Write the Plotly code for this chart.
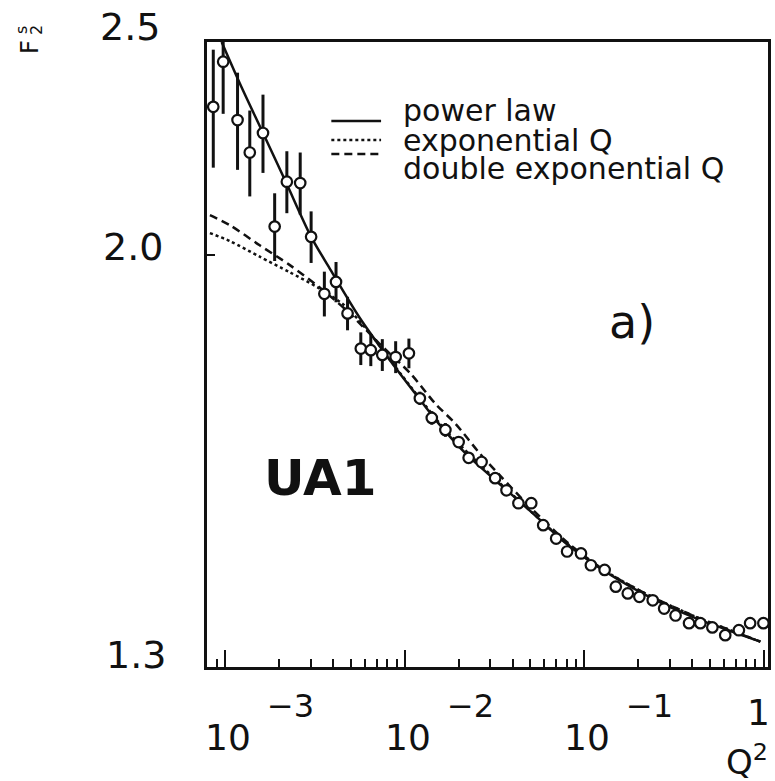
import numpy as np
import plotly.graph_objects as go

# ---------------- data ----------------
q2_data = [8.57e-4, 9.73e-4, 1.17e-3, 1.369e-3, 1.622e-3, 1.884e-3, 2.203e-3, 2.615e-3,
           3.008e-3, 3.565e-3, 4.14e-3, 4.80e-3, 5.69e-3, 6.47e-3, 7.50e-3, 8.90e-3,
           1.055e-2, 1.214e-2, 1.415e-2, 1.685e-2, 1.997e-2, 2.27e-2, 2.68e-2, 3.19e-2,
           3.69e-2, 4.30e-2, 5.07e-2, 5.91e-2, 6.98e-2, 8.03e-2, 9.60e-2, 0.109,
           0.130, 0.150, 0.175, 0.203, 0.241, 0.279, 0.323, 0.384,
           0.444, 0.518, 0.611, 0.728, 0.841, 0.997]
f2_data = [2.336, 2.449, 2.304, 2.227, 2.273, 2.061, 2.160, 2.157,
           2.039, 1.921, 1.945, 1.882, 1.814, 1.811, 1.802, 1.798,
           1.805, 1.722, 1.687, 1.666, 1.645, 1.618, 1.611, 1.584,
           1.564, 1.543, 1.543, 1.508, 1.487, 1.467, 1.464, 1.446,
           1.439, 1.414, 1.404, 1.399, 1.394, 1.382, 1.372, 1.361,
           1.361, 1.355, 1.344, 1.351, 1.361, 1.361]
f2_err = [0.144, 0.13, 0.117, 0.10, 0.093, 0.073, 0.07, 0.07,
          0.055, 0.045, 0.041, 0.033, 0.031, 0.030, 0.030, 0.030,
          0.028, 0.012, 0.012, 0.012, 0.010, 0, 0, 0,
          0, 0, 0, 0, 0, 0, 0, 0,
          0, 0, 0, 0, 0, 0, 0, 0,
          0, 0, 0, 0, 0, 0]

q2_power = [9.54e-4, 1.236e-3, 1.622e-3, 2.187e-3, 3.008e-3, 3.80e-3, 5.57e-3, 8.53e-3,
            1.149e-2, 1.547e-2, 2.176e-2, 3.33e-2, 5.07e-2, 8.13e-2, 0.1355, 0.2346,
            0.4114, 0.6856, 0.9588]
f2_power = [2.500, 2.383, 2.273, 2.157, 2.039, 1.974, 1.875, 1.786,
            1.730, 1.677, 1.626, 1.576, 1.529, 1.477, 1.434, 1.398,
            1.369, 1.348, 1.335]

q2_expo = [8.21e-4, 1.060e-3, 1.555e-3, 2.280e-3, 3.345e-3, 4.603e-3, 6.333e-3, 8.71e-3,
           1.198e-2, 1.685e-2, 2.578e-2, 4.30e-2, 8.13e-2, 0.1355, 0.2346, 0.4114,
           0.6856, 0.9588]
f2_expo = [2.047, 2.030, 1.997, 1.965, 1.932, 1.898, 1.845, 1.783,
           1.724, 1.666, 1.609, 1.548, 1.478, 1.435, 1.400, 1.371,
           1.349, 1.335]

q2_dexp = [8.21e-4, 1.060e-3, 1.555e-3, 2.280e-3, 3.345e-3, 4.906e-3, 7.194e-3, 1.078e-2,
           1.484e-2, 1.915e-2, 2.578e-2, 3.33e-2, 5.07e-2, 8.13e-2, 0.1355, 0.2346,
           0.4114, 0.6856, 0.9588]
f2_dexp = [2.086, 2.064, 2.021, 1.980, 1.934, 1.883, 1.824, 1.767,
           1.712, 1.677, 1.628, 1.591, 1.535, 1.480, 1.435, 1.400,
           1.371, 1.349, 1.335]

x_major_ticks = [1e-3, 1e-2, 1e-1, 1.0]
x_tick_base = ["10", "10", "10", "1"]
x_tick_exp = ["\u22123", "\u22122", "\u22121", ""]
y_tick_vals = [1.3, 2.0, 2.5]
y_tick_text = ["1.3", "2.0", "2.5"]
legend_names = ["power law", "exponential Q", "double exponential Q"]

# ---------------- layout helpers ----------------
W, H = 775, 781
L, R, T, B = 207, 4, 42, 114
PW, PH = W - L - R, H - T - B


def px(xp):
    return (xp - L) / PW


def py(yp):
    return (H - B - yp) / PH


FONT = "DejaVu Sans"
BLACK = "#111111"

fig = go.Figure()

line_style = dict(color=BLACK, width=2.5, shape="spline", smoothing=0.8)
fig.add_trace(go.Scatter(x=q2_expo, y=f2_expo, mode="lines",
                         line=dict(line_style, dash="dot"), name=legend_names[1]))
fig.add_trace(go.Scatter(x=q2_dexp, y=f2_dexp, mode="lines",
                         line=dict(line_style, dash="8px,5px"), name=legend_names[2]))
fig.add_trace(go.Scatter(x=q2_power, y=f2_power, mode="lines",
                         line=line_style, name=legend_names[0]))
fig.add_trace(go.Scatter(
    x=q2_data, y=f2_data, mode="markers",
    marker=dict(symbol="circle", size=10.5, color="white",
                line=dict(color=BLACK, width=2.2)),
    error_y=dict(type="data", array=f2_err, visible=True,
                 thickness=3, width=0, color=BLACK),
    name="UA1"))

minor_vals = []
for dec in [1e-4, 1e-3, 1e-2, 1e-1]:
    for k in range(2, 10):
        minor_vals.append(k * dec)

fig.update_xaxes(
    type="log", range=[-3.102, 0.0244],
    showline=True, linewidth=3, linecolor=BLACK, mirror=True,
    showgrid=False, zeroline=False,
    tickmode="array", tickvals=x_major_ticks, ticks="inside",
    ticklen=17, tickwidth=2.2, tickcolor=BLACK, showticklabels=False,
    minor=dict(tickmode="array", tickvals=minor_vals, ticks="inside",
               ticklen=8, tickwidth=2, tickcolor=BLACK, showgrid=False),
)
fig.update_yaxes(
    type="log", range=[np.log10(1.3), np.log10(2.5)],
    showline=True, linewidth=3, linecolor=BLACK, mirror=True,
    showgrid=False, zeroline=False,
    tickmode="array", tickvals=y_tick_vals, ticks="inside",
    ticklen=8, tickwidth=2.2, tickcolor=BLACK, showticklabels=False,
)

ann = []
# x tick labels ("1" at the right end sits a little higher, above the Q^2 title)
x_base_y = [737.5, 737.5, 737.5, 712]
x_base_anchor = ["center", "center", "center", "right"]
x_base_shift = [3, 3, 3, 8]
for v, base, ex, by, xa, xs in zip(x_major_ticks, x_tick_base, x_tick_exp,
                                   x_base_y, x_base_anchor, x_base_shift):
    ann.append(dict(x=np.log10(v), y=py(by), xref="x", yref="paper",
                    text=base, showarrow=False, xanchor=xa, yanchor="middle",
                    xshift=xs, font=dict(family=FONT, size=36, color=BLACK)))
    if ex:
        ann.append(dict(x=np.log10(v), y=py(705.5), xref="x", yref="paper",
                        text=ex, showarrow=False, xanchor="left", yanchor="middle",
                        xshift=40, font=dict(family=FONT, size=32, color=BLACK)))
# y tick labels
y_label_shift = [12, 8, 15]
y_label_right = [168, 165, 162]
for v, t, sh, rx in zip(y_tick_vals, y_tick_text, y_label_shift, y_label_right):
    ann.append(dict(x=px(rx), y=np.log10(v), xref="paper", yref="y",
                    text=t, showarrow=False, xanchor="right", yanchor="middle",
                    yshift=sh, font=dict(family=FONT, size=38, color=BLACK)))
# axis titles
ann.append(dict(x=px(773), y=py(760), xref="paper", yref="paper",
                text="Q<sup>2</sup>", showarrow=False, xanchor="right", yanchor="middle",
                font=dict(family=FONT, size=34, color=BLACK)))
ann.append(dict(x=px(29), y=py(47), xref="paper", yref="paper", text="F",
                textangle=-90, showarrow=False, xanchor="center", yanchor="middle",
                font=dict(family=FONT, size=24, color=BLACK)))
ann.append(dict(x=px(21), y=py(30), xref="paper", yref="paper", text="s",
                textangle=-90, showarrow=False, xanchor="center", yanchor="middle",
                font=dict(family=FONT, size=16, color=BLACK)))
ann.append(dict(x=px(36), y=py(30), xref="paper", yref="paper", text="2",
                textangle=-90, showarrow=False, xanchor="center", yanchor="middle",
                font=dict(family=FONT, size=16, color=BLACK)))
# panel texts
ann.append(dict(x=px(634), y=py(322), xref="paper", yref="paper", text="a)",
                showarrow=False, xanchor="center", yanchor="middle",
                font=dict(family=FONT, size=46, color=BLACK)))
ann.append(dict(x=px(321), y=py(478), xref="paper", yref="paper", text="<b>UA1</b>",
                showarrow=False, xanchor="center", yanchor="middle",
                font=dict(family=FONT, size=50, color=BLACK)))
# legend
leg_text_y = [110, 140, 168]
leg_line_y = [121, 140, 154]
leg_dash = ["solid", "dot", "8px,5px"]
shapes = []
for name, ty, ly, d in zip(legend_names, leg_text_y, leg_line_y, leg_dash):
    ann.append(dict(x=px(402), y=py(ty), xref="paper", yref="paper", text=name,
                    showarrow=False, xanchor="left", yanchor="middle",
                    font=dict(family=FONT, size=30, color=BLACK)))
    shapes.append(dict(type="line", xref="paper", yref="paper",
                       x0=px(332), x1=px(382), y0=py(ly), y1=py(ly),
                       line=dict(color=BLACK, width=2.5, dash=d)))

fig.update_layout(
    width=W, height=H, margin=dict(l=L, r=R, t=T, b=B),
    plot_bgcolor="white", paper_bgcolor="white", showlegend=False,
    font=dict(family=FONT, color=BLACK),
    annotations=ann, shapes=shapes,
)

fig.write_html("out.html",
               config={"displayModeBar": False},
               post_script="document.body.style.margin='0';"
                           "document.body.style.overflow='hidden';")
